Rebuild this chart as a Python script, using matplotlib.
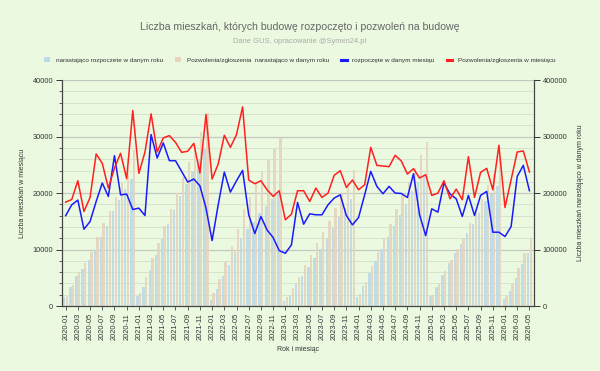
import numpy as np
import pandas as pd
import matplotlib.pyplot as plt
from matplotlib.ticker import MultipleLocator
from matplotlib.lines import Line2D
from matplotlib.patches import Patch

plt.rcParams['font.family'] = ['Liberation Sans', 'DejaVu Sans']

months = pd.period_range('2020-01', '2026-05', freq='M').strftime('%Y-%m').tolist()

# rozpoczęte w danym miesiącu
started = [16000, 17930, 18760, 13610, 14970, 18520, 21780, 19410, 26630, 19700, 19820, 17100,
           17340, 16030, 30360, 26210, 28880, 25740, 25740, 23850, 21960, 22490, 21300, 17340,
           11600, 17930, 23730, 20180, 22190, 24020, 16160, 12840, 15860, 13490, 12130, 9820,
           9350, 10830, 18340, 14500, 16330, 16160, 16160, 17930, 19110, 19700, 16040, 14380,
           15680, 19700, 23850, 21190, 19880, 21190, 20000, 19940, 19230, 23430, 16160, 12490,
           17220, 16630, 21780, 19830, 19000, 15860, 19590, 16040, 19590, 20300, 13080, 13080,
           12310, 14080, 22960, 24910, 20420]

# pozwolenia/zgłoszenia w miesiącu
permits = [18400, 18870, 22190, 16750, 19230, 26930, 25270, 20890, 24440, 27040, 22550, 34620,
           23490, 27280, 34030, 27280, 29770, 30180, 28990, 27220, 27400, 28810, 23550, 33910,
           22490, 25150, 30240, 28110, 30360, 35270, 22310, 21660, 22190, 20590, 19410, 20420,
           15270, 16270, 20420, 20420, 18520, 20890, 19230, 20000, 23140, 23970, 21000, 22310,
           20590, 21480, 28110, 24910, 24790, 24680, 26690, 25700, 23380, 24320, 22670, 23260,
           19590, 20000, 22190, 19000, 20710, 18820, 26450, 19230, 23670, 24380, 20590, 28460,
           17460, 22370, 27280, 27460, 23730]

df = pd.DataFrame({'month': months, 'started': started, 'permits': permits})
df['year'] = df['month'].str[:4]
df['started_cum'] = df.groupby('year')['started'].cumsum()
df['permits_cum'] = df.groupby('year')['permits'].cumsum()

bg = '#ebf9e0'
fig = plt.figure(figsize=(6, 3.71), dpi=100, facecolor=bg)
ax = fig.add_axes([0.1028, 0.175, 0.7877, 0.609])
ax.set_facecolor(bg)
ax2 = ax.twinx()

x = np.arange(len(months))

# słupki narastająco (prawa oś) - rysowane pod liniami
ax.set_zorder(ax2.get_zorder() + 1)
ax.patch.set_visible(False)
ax2.set_facecolor(bg)
ax2.bar(x - 0.22, df['started_cum'], width=0.38, color='#bcd9e6', alpha=0.9, zorder=2)
ax2.bar(x + 0.22, df['permits_cum'], width=0.38, color='#e6d4be', alpha=0.9, zorder=2)

ax.plot(x, df['started'], color='#1a1aff', lw=1.1, zorder=5)
ax.plot(x, df['permits'], color='#ff2020', lw=1.1, zorder=5)

ax.set_xlim(-0.65, len(months) - 0.2)
ax.set_ylim(0, 40000)
ax2.set_ylim(0, 400000)

ax.yaxis.set_major_locator(MultipleLocator(10000))
ax.yaxis.set_minor_locator(MultipleLocator(2000))
ax2.yaxis.set_major_locator(MultipleLocator(100000))
ax2.yaxis.set_minor_locator(MultipleLocator(20000))

# siatka na osi słupków (pod wszystkim)
ax2.grid(which='major', axis='y', color='#c4c9c0', lw=0.9, zorder=0)
ax2.grid(which='minor', axis='y', color='#d6e4ce', lw=0.7, zorder=0)
ax2.set_axisbelow(True)

ticks = x[::2]
ax.set_xticks(ticks)
ax.set_xticklabels([months[i] for i in ticks], rotation=90, fontsize=5.3, color='#333333')
ax.tick_params(axis='x', length=3, width=0.6, color='#444444', pad=2)
ax.tick_params(axis='y', which='major', length=4, width=0.7, labelsize=5.3, colors='#333333', pad=2)
ax.tick_params(axis='y', which='minor', length=2.5, width=0.6, color='#444444')
ax2.tick_params(axis='y', which='major', length=4, width=0.7, labelsize=5.3, colors='#333333', pad=2)
ax2.tick_params(axis='y', which='minor', length=0, width=0)
ax2.tick_params(axis='x', length=0)

for a in (ax, ax2):
    a.spines['top'].set_visible(False)
    for s in ('left', 'right', 'bottom'):
        a.spines[s].set_color('#444444')
        a.spines[s].set_linewidth(0.8)

ax.set_ylabel('Liczba mieszkań w miesiącu', fontsize=5, color='#333333', labelpad=5)
ax2.set_ylabel('Liczba mieszkań narastająco w danym roku', fontsize=5, color='#333333', labelpad=7)
ax.set_xlabel('Rok i miesiąc', fontsize=5, color='#333333', labelpad=4)

fig.text(0.5, 0.927, 'Liczba mieszkań, których budowę rozpoczęto i pozwoleń na budowę',
         ha='center', va='center', fontsize=7.6, color='#666666')
fig.text(0.5, 0.889, 'Dane GUS, opracowanie @Symen24.pl',
         ha='center', va='center', fontsize=5.4, color='#aaaaaa')

handles = [Patch(facecolor='#bcd9e6', edgecolor='none'),
           Patch(facecolor='#e6d4be', edgecolor='none'),
           Line2D([], [], color='#1a1aff', lw=2.2),
           Line2D([], [], color='#ff2020', lw=2.2)]
labels = ['narastająco rozpoczete w danym roku',
          'Pozwolenia/zgłoszenia  narastająco w danym roku',
          'rozpoczęte w danym miesiąu',
          'Pozwolenia/zgłoszenia w miesiącu']
fig.legend(handles, labels, loc='center', bbox_to_anchor=(0.5, 0.838), ncol=4, frameon=False,
           fontsize=4.6, handlelength=0.9, handleheight=0.9, handletextpad=0.9, columnspacing=1.9,
           labelcolor='#333333')

fig.savefig('out.png', dpi=100, facecolor=bg)
